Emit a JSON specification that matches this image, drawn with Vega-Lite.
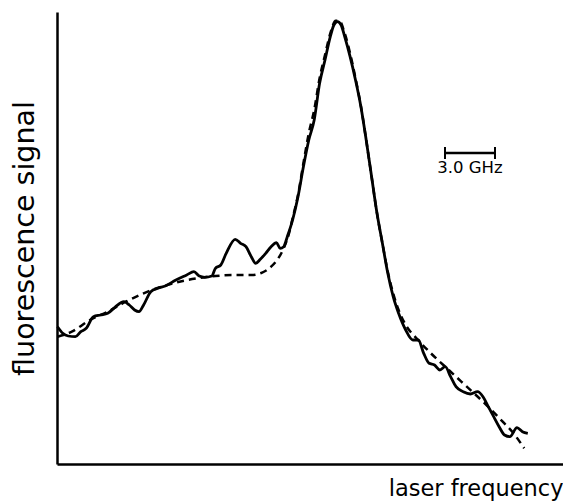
{
  "$schema": "https://vega.github.io/schema/vega-lite/v6.json",
  "width": 506,
  "height": 452,
  "autosize": {"type": "none"},
  "padding": {"left": 57, "top": 12, "right": 0, "bottom": 39},
  "background": "white",
  "config": {
    "view": {"stroke": null},
    "font": "DejaVu Sans",
    "axis": {"grid": false, "ticks": false, "labels": false, "domainColor": "black", "domainWidth": 2.5, "titleFontWeight": "normal", "titleColor": "black"}
  },
  "datasets": {
    "solid": [
      {"f": 0.5, "s": 137.3}, {"f": 5.8, "s": 130.7}, {"f": 11.2, "s": 128}, {"f": 18.4, "s": 127.3},
      {"f": 23.8, "s": 132.3}, {"f": 29.2, "s": 135.7}, {"f": 36.4, "s": 147.3}, {"f": 43.5, "s": 149},
      {"f": 50.7, "s": 150.7}, {"f": 57.9, "s": 156.7}, {"f": 66.9, "s": 162.3}, {"f": 72.3, "s": 159},
      {"f": 77.6, "s": 154}, {"f": 82, "s": 152.3}, {"f": 86.6, "s": 159}, {"f": 93.8, "s": 172.3},
      {"f": 101, "s": 175.7}, {"f": 108.2, "s": 178}, {"f": 118.9, "s": 184}, {"f": 129.7, "s": 189},
      {"f": 136.9, "s": 192.3}, {"f": 142.3, "s": 188}, {"f": 147.7, "s": 186.7}, {"f": 154.8, "s": 188},
      {"f": 158.4, "s": 195.7}, {"f": 163.8, "s": 199}, {"f": 169.2, "s": 210.7}, {"f": 178.2, "s": 224.7},
      {"f": 183.6, "s": 220.7}, {"f": 189, "s": 217.3}, {"f": 194.3, "s": 207.3}, {"f": 198.7, "s": 200.7},
      {"f": 203.3, "s": 204.7}, {"f": 208.7, "s": 210.7}, {"f": 214.1, "s": 217.3}, {"f": 219.5, "s": 221.3},
      {"f": 223.1, "s": 215.7}, {"f": 226.7, "s": 217.3}, {"f": 230.3, "s": 227.3}, {"f": 235.6, "s": 244},
      {"f": 241, "s": 267.3}, {"f": 246.4, "s": 297.3}, {"f": 251.8, "s": 324}, {"f": 257.2, "s": 344},
      {"f": 262.6, "s": 380.7}, {"f": 268, "s": 404}, {"f": 273.3, "s": 427.3}, {"f": 276.9, "s": 439},
      {"f": 280.5, "s": 442.3}, {"f": 284.1, "s": 439}, {"f": 287.7, "s": 427.3}, {"f": 293.1, "s": 407.3},
      {"f": 298.5, "s": 384}, {"f": 303.9, "s": 357.3}, {"f": 309.2, "s": 324}, {"f": 314.6, "s": 287.3},
      {"f": 320, "s": 250.7}, {"f": 325.4, "s": 220.7}, {"f": 330.8, "s": 190.7}, {"f": 336.2, "s": 167.3},
      {"f": 341.6, "s": 150.7}, {"f": 348.7, "s": 134}, {"f": 355.9, "s": 124}, {"f": 361.3, "s": 124},
      {"f": 366.7, "s": 110.7}, {"f": 372.1, "s": 100.7}, {"f": 377.5, "s": 99}, {"f": 382.9, "s": 94},
      {"f": 388.2, "s": 97.3}, {"f": 393.6, "s": 87.3}, {"f": 399, "s": 77.3}, {"f": 406.2, "s": 72.3},
      {"f": 413.4, "s": 70}, {"f": 420.6, "s": 72.3}, {"f": 426, "s": 67.3}, {"f": 431.3, "s": 57.3},
      {"f": 436.7, "s": 47.3}, {"f": 442.1, "s": 37.3}, {"f": 447.5, "s": 29}, {"f": 452.9, "s": 27.3},
      {"f": 460, "s": 36.3}, {"f": 465.4, "s": 32.3}, {"f": 470.8, "s": 30.7}
    ],
    "dashed": [
      {"f": 0.5, "s": 127.3}, {"f": 14.8, "s": 132.3}, {"f": 32.8, "s": 144}, {"f": 50.7, "s": 152.3},
      {"f": 68.7, "s": 162.3}, {"f": 86.6, "s": 170.7}, {"f": 104.6, "s": 177.3}, {"f": 122.5, "s": 182.3},
      {"f": 140.5, "s": 185.7}, {"f": 158.4, "s": 188}, {"f": 176.4, "s": 189}, {"f": 194.3, "s": 189},
      {"f": 205.1, "s": 191.3}, {"f": 214.1, "s": 197.3}, {"f": 221.3, "s": 205.7}, {"f": 226.7, "s": 215.7},
      {"f": 232, "s": 230.7}, {"f": 235.6, "s": 245.7}, {"f": 241, "s": 269}, {"f": 246.4, "s": 300.7},
      {"f": 251.8, "s": 330.7}, {"f": 257.2, "s": 354}, {"f": 262.6, "s": 385.7}, {"f": 268, "s": 409},
      {"f": 273.3, "s": 430.7}, {"f": 278.7, "s": 443.3}, {"f": 282.3, "s": 443.3}, {"f": 287.7, "s": 430.7},
      {"f": 293.1, "s": 410.7}, {"f": 298.5, "s": 385.7}, {"f": 303.9, "s": 358}, {"f": 309.2, "s": 324},
      {"f": 314.6, "s": 287.3}, {"f": 320, "s": 250.7}, {"f": 325.4, "s": 220.7}, {"f": 330.8, "s": 192.3},
      {"f": 336.2, "s": 170.7}, {"f": 341.6, "s": 154}, {"f": 348.7, "s": 139}, {"f": 359.5, "s": 125.7},
      {"f": 373.9, "s": 110.7}, {"f": 391.8, "s": 94}, {"f": 409.8, "s": 77.3}, {"f": 427.7, "s": 60.7},
      {"f": 445.7, "s": 42.3}, {"f": 456.5, "s": 30.7}, {"f": 467.2, "s": 15.7}
    ],
    "bar": [{"f": 388, "f2": 438, "s": 311}],
    "caps": [{"f": 388, "s": 305, "s2": 317}, {"f": 438, "s": 305, "s2": 317}],
    "label": [{"f": 413, "s": 296, "t": "3.0 GHz"}]
  },
  "layer": [
    {
      "data": {"name": "solid"},
      "mark": {"type": "line", "color": "black", "strokeWidth": 2.8, "interpolate": "monotone"},
      "encoding": {
        "x": {"field": "f", "type": "quantitative", "scale": {"domain": [0, 506], "nice": false, "zero": false}, "axis": {"title": "laser frequency", "titleFontSize": 22.5, "titleAnchor": "end", "titleAlign": "right", "titlePadding": 13}},
        "y": {"field": "s", "type": "quantitative", "scale": {"domain": [0, 452], "nice": false, "zero": false}, "axis": {"title": "fluorescence signal", "titleFontSize": 28.5, "titlePadding": 18}}
      }
    },
    {
      "data": {"name": "dashed"},
      "mark": {"type": "line", "color": "black", "strokeWidth": 2.5, "strokeDash": [7, 5], "interpolate": "monotone"},
      "encoding": {
        "x": {"field": "f", "type": "quantitative"},
        "y": {"field": "s", "type": "quantitative"}
      }
    },
    {
      "data": {"name": "bar"},
      "mark": {"type": "rule", "color": "black", "strokeWidth": 2.5},
      "encoding": {
        "x": {"field": "f", "type": "quantitative"},
        "x2": {"field": "f2"},
        "y": {"field": "s", "type": "quantitative"}
      }
    },
    {
      "data": {"name": "caps"},
      "mark": {"type": "rule", "color": "black", "strokeWidth": 2},
      "encoding": {
        "x": {"field": "f", "type": "quantitative"},
        "y": {"field": "s", "type": "quantitative"},
        "y2": {"field": "s2"}
      }
    },
    {
      "data": {"name": "label"},
      "mark": {"type": "text", "color": "black", "fontSize": 16.5, "align": "center", "baseline": "middle"},
      "encoding": {
        "x": {"field": "f", "type": "quantitative"},
        "y": {"field": "s", "type": "quantitative"},
        "text": {"field": "t"}
      }
    }
  ]
}
